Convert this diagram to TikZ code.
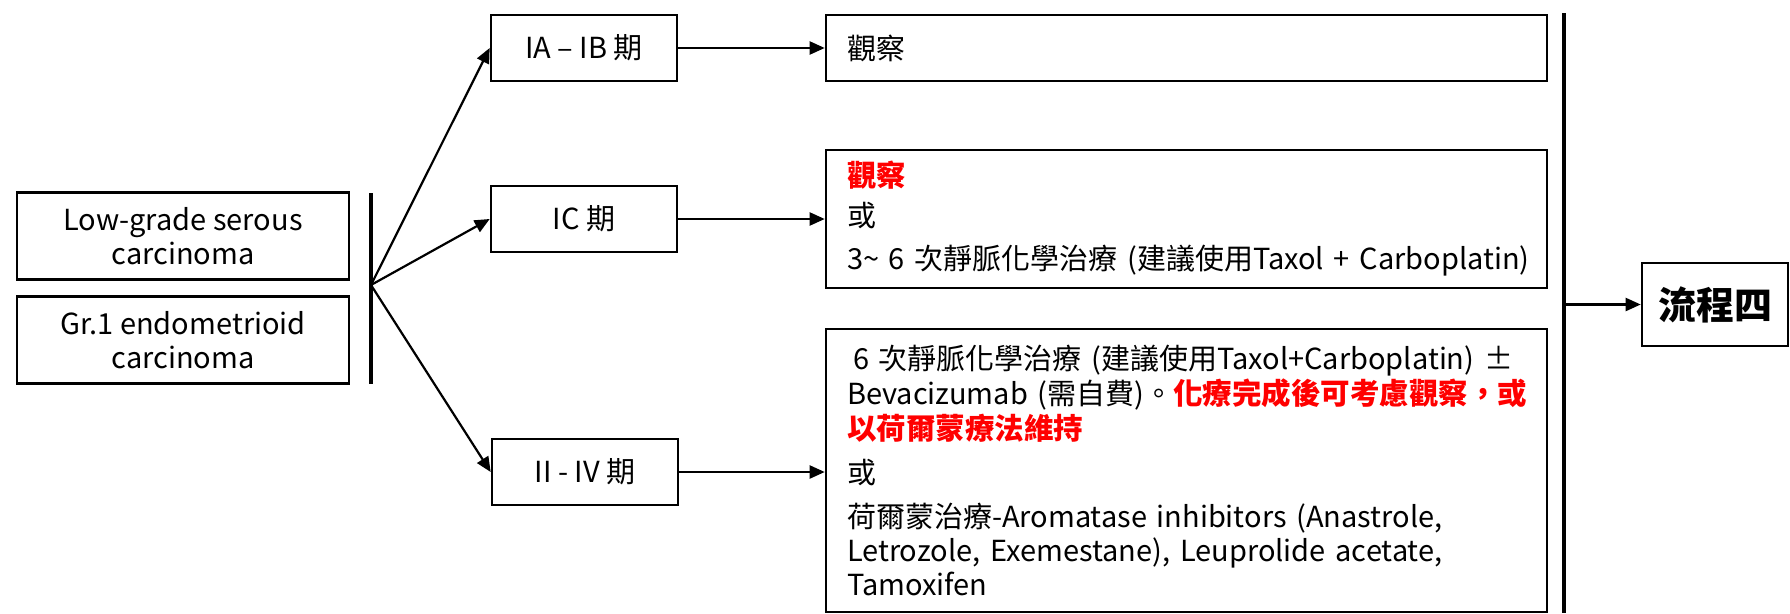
\documentclass[tikz,border=0pt]{standalone}
\usepackage{fontspec}
\setmainfont{Noto Sans CJK TC}
\usetikzlibrary{arrows.meta}
\definecolor{hlred}{RGB}{255,0,0}
\newcommand\tightlsk{\lineskiplimit=-100pt\relax}
\newcommand\redbf[1]{{\fontsize{29.5}{34}\selectfont\bfseries\color{hlred}#1}}
\begin{document}
\begin{tikzpicture}[x=1pt,y=-1pt,
  box/.style={draw, line width=2.6pt, inner sep=0pt},
  srcbox/.style={box, align=center, minimum width=332pt, minimum height=87pt, font=\fontsize{29}{34}\selectfont},
  stagebox/.style={box, align=center, minimum width=186pt, minimum height=66pt, font=\fontsize{29}{34}\selectfont},
  resbox/.style={box, align=left, minimum width=721pt, text width=679pt, inner xsep=21pt, font=\fontsize{29}{34}\selectfont\tightlsk},
  flowbox/.style={box, align=center, minimum width=146pt, minimum height=83pt, font=\fontsize{38}{40}\selectfont\bfseries},
  bar/.style={line width=4pt},
  arr/.style={line width=2.2pt, -{Triangle[length=15pt,width=13pt]}},
]
\useasboundingbox (0,0) rectangle (1790,613);

% source boxes
\node[srcbox] (lg) at (183,236) {Low-grade serous\\carcinoma};
\node[srcbox] (gr) at (183,340) {Gr.1 endometrioid\\carcinoma};

% left bar and fan point
\coordinate (lbt) at (371,193);
\coordinate (lbb) at (371,384);
\coordinate (fan) at (371,285);
\draw[bar] (lbt) -- (lbb);

% stage boxes
\node[stagebox] (ia) at (584,48) {IA -- IB 期};
\node[stagebox] (ic) at (584,219) {IC 期};
\node[stagebox] (iv) at (585,472) {II - IV 期};

\draw[arr] (fan) -- (ia.west);
\draw[arr] (fan) -- (ic.west);
\draw[arr] (fan) -- (iv.west);

% result boxes
\node[resbox, minimum height=66pt] (r1) at (1186.5,48) {觀察};
\node[resbox, minimum height=138pt] (r2) at (1186.5,219) {%
\redbf{觀察}\\[6pt]
或\\[9pt]
\mbox{3\textasciitilde{} 6 次靜脈化學治療 (建議使用Taxol + Carboplatin)}};
\node[resbox, minimum height=283pt] (r3) at (1186.5,470.5) {%
\mbox{\hspace*{6pt}6 次靜脈化學治療 (建議使用Taxol+Carboplatin) ±}\\[0.5pt]
\mbox{Bevacizumab (需自費)。\redbf{化療完成後可考慮觀察，或}}\\[1.5pt]
\redbf{以荷爾蒙療法維持}\\[9.5pt]
或\\[10.5pt]
荷爾蒙治療-Aromatase inhibitors (Anastrole,\\
Letrozole, Exemestane), Leuprolide acetate,\\
Tamoxifen};

\draw[arr] (ia.east) -- (ia.east -| r1.west);
\draw[arr] (ic.east) -- (ic.east -| r2.west);
\draw[arr] (iv.east) -- (iv.east -| r3.west);

% right bar
\coordinate (rbt) at (1564,13);
\coordinate (rbb) at (1564,613);
\coordinate (rbm) at (1564,304.5);
\draw[bar] (rbt) -- (rbb);

\node[flowbox] (flow) at (1715,304.5) {流程四};
\draw[arr] (rbm) -- (flow.west);
\end{tikzpicture}
\end{document}
